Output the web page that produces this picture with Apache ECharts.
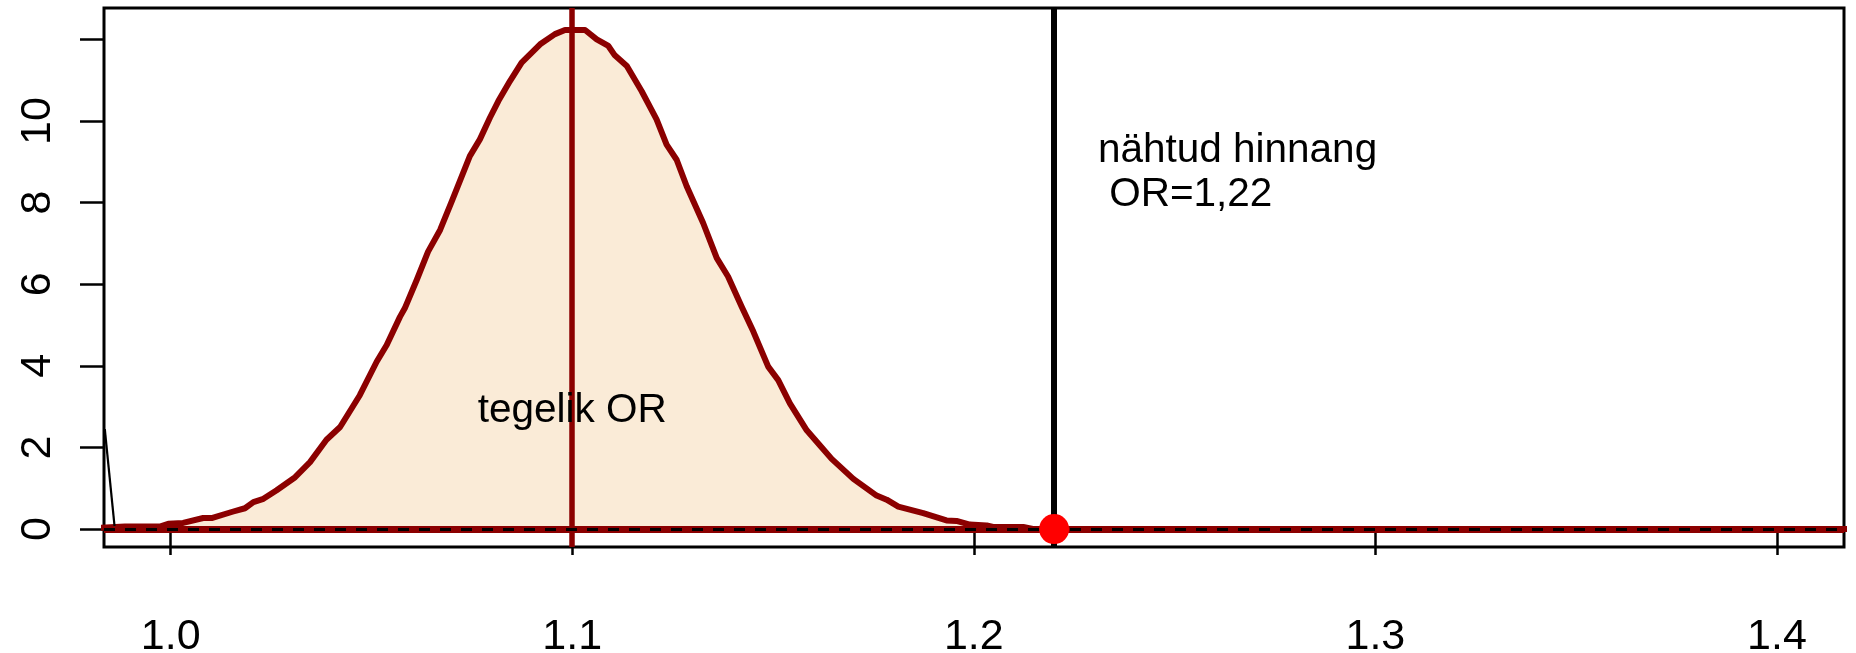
<!DOCTYPE html>
<html>
<head>
<meta charset="utf-8">
<script src="https://cdn.jsdelivr.net/npm/echarts@6/dist/echarts.min.js"></script>
<style>
html,body{margin:0;padding:0;background:#fff;}
#chart{width:1856px;height:653px;}
</style>
</head>
<body>
<div id="chart"></div>
<script>
// ---- data ----
const xTicks = [1.0, 1.1, 1.2, 1.3, 1.4];
const yTicks = [0, 2, 4, 6, 8, 10, 12];
const yLabels = [0, 2, 4, 6, 8, 10];

const densX = [0.975, 0.9886, 0.9973, 0.9994, 1.0031, 1.0081, 1.0102, 1.0156, 1.0185, 1.0206,
  1.0231, 1.0264, 1.0310, 1.0347, 1.0388, 1.0422, 1.0471, 1.0513, 1.0538, 1.0571,
  1.0583, 1.0613, 1.0641, 1.0671, 1.0700, 1.0745, 1.0770, 1.0795, 1.0816, 1.0845,
  1.0874, 1.0920, 1.0957, 1.0982, 1.1032, 1.1061, 1.1090, 1.1106, 1.1136, 1.1173,
  1.1210, 1.1235, 1.1260, 1.1285, 1.1326, 1.1360, 1.1388, 1.1422, 1.1451, 1.1488,
  1.1513, 1.1542, 1.1584, 1.1617, 1.1646, 1.1700, 1.1758, 1.1783, 1.1812, 1.1874,
  1.1932, 1.1957, 1.1990, 1.2032, 1.2048, 1.2123, 1.2147, 1.43];
const densY = [0, 0.06, 0.06, 0.13, 0.15, 0.27, 0.27, 0.43, 0.51, 0.66,
  0.74, 0.95, 1.27, 1.64, 2.19, 2.50, 3.28, 4.10, 4.51, 5.20,
  5.41, 6.11, 6.80, 7.33, 8.03, 9.14, 9.55, 10.08, 10.49, 10.98,
  11.43, 11.88, 12.13, 12.23, 12.23, 12.0, 11.84, 11.61, 11.35, 10.73,
  10.04, 9.42, 9.05, 8.40, 7.50, 6.64, 6.19, 5.45, 4.84, 3.98,
  3.65, 3.08, 2.42, 2.05, 1.72, 1.23, 0.82, 0.72, 0.55, 0.39,
  0.21, 0.20, 0.11, 0.09, 0.05, 0.05, 0.0, 0];

const edgeLineX = [0.9836, 0.9861];
const edgeLineY = [2.45, 0];

const trueOR = 1.1;
const observedOR = 1.22;

const labelTrue = { text: 'tegelik OR', x: 1.1, y: 2.9 };
const labelObs = { text: 'nähtud hinnang\n OR=1,22', x: 1.2309, y: 8.72 };

const xRange = [0.9834, 1.4167];
const yRange = [-0.44, 12.77];

// ---- chart ----
const FONT = '"Liberation Sans", Arial, Helvetica, sans-serif';
const chart = echarts.init(document.getElementById('chart'), null, { renderer: 'canvas' });

const option = {
  animation: false,
  backgroundColor: '#ffffff',
  grid: {
    left: 104, right: 12, top: 8, bottom: 106,
    containLabel: false, outerBoundsMode: 'none',
    show: true, borderColor: '#000', borderWidth: 3, backgroundColor: 'transparent'
  },
  xAxis: {
    type: 'value', min: xRange[0], max: xRange[1],
    axisLine: { show: false },
    splitLine: { show: false },
    axisTick: { show: true, length: 26, customValues: xTicks, lineStyle: { color: '#000', width: 2.5 } },
    axisLabel: {
      customValues: xTicks, margin: 69, fontSize: 43, color: '#000000', fontFamily: FONT,
      formatter: v => Number(v).toFixed(1)
    }
  },
  yAxis: {
    type: 'value', min: yRange[0], max: yRange[1],
    axisLine: { show: false },
    splitLine: { show: false },
    axisTick: { show: true, length: 24, customValues: yTicks, lineStyle: { color: '#000', width: 2.5 } },
    axisLabel: {
      customValues: yLabels, rotate: 90, margin: 44, fontSize: 43, color: '#000000', fontFamily: FONT,
      formatter: v => String(v)
    }
  },
  series: [
    {
      type: 'line', name: 'density', z: 2, clip: true,
      data: densX.map((x, i) => [x, densY[i]]),
      symbol: 'none', silent: true,
      lineStyle: { color: '#8B0000', width: 6, join: 'round' },
      areaStyle: { color: '#FAEBD7', opacity: 1 }
    },
    {
      type: 'line', name: 'edge', z: 3, clip: true, silent: true,
      data: edgeLineX.map((x, i) => [x, edgeLineY[i]]),
      symbol: 'none',
      lineStyle: { color: '#000', width: 2.2 }
    },
    {
      type: 'line', name: 'refs', z: 4, data: [], silent: true,
      markLine: {
        silent: true, symbol: ['none', 'none'], label: { show: false }, animation: false,
        data: [
          { xAxis: trueOR, lineStyle: { color: '#8B0000', width: 5.5, type: 'solid', opacity: 1 } },
          { yAxis: 0, lineStyle: { color: '#8B0000', width: 7, type: 'solid', opacity: 1 } }
        ]
      }
    },
    {
      type: 'line', name: 'zero', z: 5, data: [], silent: true,
      markLine: {
        silent: true, symbol: ['none', 'none'], label: { show: false }, animation: false,
        data: [
          { yAxis: 0, lineStyle: { color: '#000', width: 3.2, type: [11, 10], opacity: 1 } },
          { xAxis: observedOR, lineStyle: { color: '#000', width: 6, type: 'solid', opacity: 1 } }
        ]
      }
    },
    {
      type: 'scatter', name: 'obs', z: 10, silent: true,
      data: [[observedOR, 0]],
      symbol: 'circle', symbolSize: 30,
      itemStyle: { color: '#FF0000', opacity: 1 }
    },
    {
      type: 'scatter', name: 'labels', z: 11, silent: true,
      data: [
        { value: [labelTrue.x, labelTrue.y, labelTrue.text], label: { align: 'center', color: '#000000' } },
        { value: [labelObs.x, labelObs.y, labelObs.text], label: { align: 'left', color: '#000000' } }
      ],
      symbolSize: 1,
      itemStyle: { color: 'rgba(0,0,0,0)', opacity: 1 },
      label: {
        show: true, position: 'inside', color: '#000000', fontSize: 40.5, fontFamily: FONT,
        lineHeight: 44, textBorderWidth: 0,
        formatter: p => p.value[2]
      }
    }
  ]
};
chart.setOption(option);
</script>
</body>
</html>
